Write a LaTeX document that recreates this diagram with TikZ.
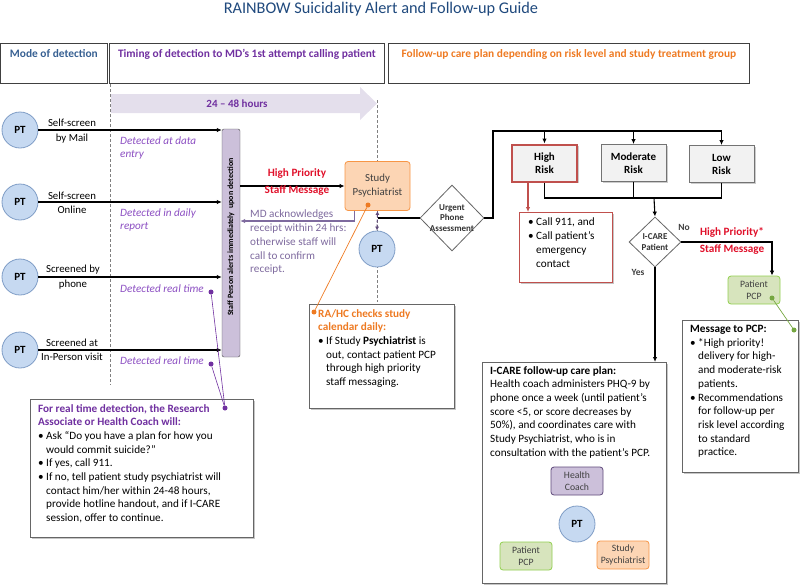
\documentclass[tikz,border=0pt]{standalone}
\usepackage{fontspec}
\setmainfont{Carlito}
\usepackage{tikz}
\usetikzlibrary{positioning, arrows.meta, shapes.geometric, shadows}
\definecolor{mtitle}{HTML}{1F497D}
\definecolor{mhead}{HTML}{376092}
\definecolor{mpurple}{HTML}{7030A0}
\definecolor{mlabel}{HTML}{8C4FC2}
\definecolor{mack}{HTML}{7E6A9E}
\definecolor{morange}{HTML}{EE7A22}
\definecolor{mred}{HTML}{E0102A}
\definecolor{mredbox}{HTML}{C0504D}
\definecolor{ptfill}{HTML}{C6D9F1}
\definecolor{ptdraw}{HTML}{7F9DC6}
\definecolor{psyfill}{HTML}{FCD5B4}
\definecolor{psydraw}{HTML}{F79646}
\definecolor{pcpfill}{HTML}{D7E4BD}
\definecolor{pcpdraw}{HTML}{92D050}
\definecolor{hcfill}{HTML}{CCC0DA}
\definecolor{hcdraw}{HTML}{5F497A}
\definecolor{bandfill}{HTML}{E4DFEC}
\definecolor{riskfill}{HTML}{F2F2F2}
\newcommand{\notefont}{\fontsize{11.2}{13.7}\selectfont}
\newcommand{\bul}{\makebox[8pt][l]{\textbullet}}
\newcommand{\bcont}{\hspace*{8pt}}
\tikzset{
  >=Stealth,
  flow/.style={line width=1.1pt, black},
  arr/.style={flow, -{Latex[length=5pt,width=4.5pt]}},
  guide/.style={densely dashed, gray, line width=0.5pt},
  headbox/.style={draw=black!75, line width=0.8pt, minimum height=40, anchor=north west, inner sep=0pt},
  headtext/.style={font=\fontsize{11.4}{13}\selectfont\bfseries},
  pt/.style={circle, draw=ptdraw, fill=ptfill, line width=0.8pt, minimum size=36, inner sep=0pt, font=\fontsize{11}{13}\selectfont\bfseries},
  srclabel/.style={align=center, inner sep=1pt, font=\fontsize{10.8}{14.5}\selectfont},
  detlabel/.style={align=left, inner sep=0pt, text=mlabel, font=\fontsize{11.2}{13}\selectfont\itshape},
  prio/.style={align=center, text=mred, font=\fontsize{11.2}{16.5}\selectfont\bfseries},
  yesno/.style={text=black!75, font=\fontsize{9.5}{11}\selectfont\bfseries},
  notebox/.style={draw=black!60, fill=white, line width=0.7pt, anchor=north west, inner sep=0pt,
    drop shadow={shadow xshift=1.5pt, shadow yshift=-1.5pt, opacity=0.45}},
  notetext/.style={anchor=north west, align=left, inner sep=0pt, font=\notefont},
  riskbox/.style={draw=black!55, fill=riskfill, line width=0.9pt, minimum width=65, minimum height=37,
    align=center, font=\fontsize{11}{13}\selectfont\bfseries,
    drop shadow={shadow xshift=1.5pt, shadow yshift=-1.5pt, opacity=0.4}},
  decision/.style={diamond, draw=black!60, fill=white, line width=0.8pt, inner sep=0pt, align=center,
    text=black!80, font=\fontsize{9}{10.5}\selectfont\bfseries},
  smallbox/.style={rounded corners=3pt, line width=0.8pt, minimum width=52, minimum height=28,
    align=center, inner sep=1pt, text=black!75, font=\fontsize{9.7}{12}\selectfont},
  psybox/.style={smallbox, draw=psydraw, fill=psyfill},
  pcpbox/.style={smallbox, draw=pcpdraw, fill=pcpfill},
  hcbox/.style={smallbox, draw=hcdraw, fill=hcfill},
  dot/.style={circle, inner sep=0pt, minimum size=5pt},
  ackline/.style={draw=mack, line width=1.1pt, -{Latex[length=5pt,width=4.5pt]}},
  linkarr/.style={draw=hcdraw, densely dashed, line width=1pt, {Latex[length=4pt,width=4pt]}-{Latex[length=4pt,width=4pt]}}
}

\begin{document}
\begin{tikzpicture}[x=1pt, y=-1pt]
\useasboundingbox (0,0) rectangle (800,584);

% title and column heads
\node[font=\fontsize{16.3}{19}\selectfont, text=mtitle] (title) at (381,9) {RAINBOW Suicidality Alert and Follow-up Guide};
\node[headbox, minimum width=107] (colmode) at (0,43) {};
\node[headbox, minimum width=275] (coltime) at (109,43) {};
\node[headbox, minimum width=361] (colplan) at (388,43) {};
\node[headtext, text=mhead] (modetext) at (colmode.north |- 0,54) {Mode of detection};
\node[headtext, text=mpurple] (timetext) at (coltime.north |- 0,54) {Timing of detection to MD’s 1st attempt calling patient};
\node[headtext, text=morange] (plantext) at (colplan.north |- 0,54) {Follow-up care plan depending on risk level and study treatment group};

% time band
\draw[guide] (110,84) -- (110,385);
\draw[guide] (377,100) -- (377,302);
\fill[bandfill] (111,94) -- (360,94) -- (360,87) -- (377,103.5) -- (360,120) -- (360,113) -- (111,113) -- cycle;
\node[text=mpurple, font=\fontsize{11}{13}\selectfont\bfseries] (hours) at (237,103.5) {24 -- 48 hours};

% modes of detection
\node[pt] (pt1) at (20,130) {PT};
\node[pt] (pt2) at (20,202) {PT};
\node[pt] (pt3) at (20,277) {PT};
\node[pt] (pt4) at (20,350) {PT};
\node[draw=black!70, fill=hcfill, rounded corners=2pt, minimum width=18, minimum height=228, inner sep=0pt] (bar) at (231,243) {};
\node[rotate=90, font=\fontsize{8}{10}\selectfont\bfseries] (bartext) at (231,237) {Staff Person alerts immediately\ \ upon detection};

\draw[arr] (pt1) -- (pt1 -| bar.west);
\draw[arr] (pt2) -- (pt2 -| bar.west);
\draw[arr] (pt3) -- (pt3 -| bar.west);
\draw[arr] (pt4) -- (pt4 -| bar.west);

\node[srclabel] (src1) at (72,131) {Self-screen\\by Mail};
\node[srclabel] (src2) at (72,203) {Self-screen\\Online};
\node[srclabel] (src3) at (73,277) {Screened by\\phone};
\node[srclabel] (src4) at (72,350) {Screened at\\In-Person visit};

\node[detlabel, anchor=west] (det1) at (120,148.5) {Detected at data\\entry};
\node[detlabel, anchor=west] (det2) at (120,220) {Detected in daily\\report};
\node[detlabel, anchor=west] (det3) at (120,289) {Detected real time};
\node[detlabel, anchor=west] (det4) at (120,361) {Detected real time};

% real time box
\node[notebox, minimum width=223, minimum height=138] (rtframe) at (30,399) {};
\node[notetext, below right=5pt and 8pt of rtframe.north west] (rttext) {%
\textcolor{mpurple}{\textbf{For real time detection, the Research}}\\
\textcolor{mpurple}{\textbf{Associate or Health Coach will:}}\\
\bul Ask “Do you have a plan for how you\\
\bcont would commit suicide?”\\
\bul If yes, call 911.\\
\bul If no, tell patient study psychiatrist will\\
\bcont contact him/her within 24-48 hours,\\
\bcont provide hotline handout, and if I-CARE\\
\bcont session, offer to continue.};
\node[dot, fill=mpurple] (pd1) at (211,292) {};
\node[dot, fill=mpurple] (pd2) at (211,364) {};
\node[dot, fill=mpurple] (pd3) at (225,408) {};
\draw[mpurple, line width=0.6pt] (pd1) -- (pd3);
\draw[mpurple, line width=0.6pt] (pd2) -- (pd3);

% psychiatrist
\node[psybox, minimum width=65, minimum height=49, font=\fontsize{10.8}{14}\selectfont] (psych) at (377.5,186) {Study\\Psychiatrist};
\node[pt] (ptmid) at (377,249) {PT};
\draw[arr] (bar.east |- psych.west) -- (psych.west);
\node[prio] (prio1) at (297,182) {High Priority\\Staff Message};
\draw[ackline] ([xshift=-23pt]psych.south) |- (bar.east |- 0,221);
\node[notetext, text=mack] (acktext) at (250,210) {MD acknowledges\\receipt within 24 hrs:\\otherwise staff will\\call to confirm\\receipt.};
\draw[linkarr] (psych.south) -- (ptmid.north);

% RA/HC box
\node[notebox, minimum width=145, minimum height=104] (raframe) at (309,304) {};
\node[notetext, below right=5pt and 9pt of raframe.north west] (ratext) {%
\textcolor{morange}{\textbf{RA/HC checks study}}\\
\textcolor{morange}{\textbf{calendar daily:}}\\
\bul If Study \textbf{Psychiatrist} is\\
\bcont out, contact patient PCP\\
\bcont through high priority\\
\bcont staff messaging.};
\node[dot, fill=morange] (od1) at (368,205) {};
\node[dot, fill=morange] (od2) at (314,312) {};
\draw[morange, line width=0.7pt] (od1) -- (od2);

% urgent assessment and risk levels
\node[decision, minimum width=64, minimum height=66] (urgent) at (452,218) {Urgent\\Phone\\\makebox[28pt]{Assessment}};
\draw[flow] (urgent.west) -- (urgent.west -| psych.south);
\node[riskbox, draw=mredbox, line width=2pt] (high) at (544.5,163) {High\\Risk};
\node[riskbox] (moderate) at (633.5,163) {Moderate\\Risk};
\node[riskbox] (low) at (721.5,164) {Low\\Risk};
\coordinate (split) at (493,131);
\coordinate (merge) at (654,198);
\draw[flow] (urgent.east) -| (split) -- (split -| low.north);
\foreach \r in {high,moderate,low}
  \draw[arr] (split -| \r.north) -- (\r.north);
\draw[flow] (high.south) -- (high.south |- merge) -- (low.south |- merge) -- (low.south);
\draw[flow] (moderate.south) -- (moderate.south |- merge);

% high risk actions
\node[notebox, draw=mredbox, line width=1.2pt, minimum width=93, minimum height=70] (callframe) at (519,212) {};
\node[notetext, below right=6pt and 9pt of callframe.north west] (calltext) {%
\bul Call 911, and\\
\bul Call patient’s\\
\bcont emergency\\
\bcont contact};
\draw[draw=mredbox, line width=1.1pt, -{Latex[length=5pt,width=4.5pt]}] ([xshift=-16.5pt]high.south) -- ([xshift=-16.5pt]high.south |- callframe.north);

% I-CARE decision
\node[decision, minimum width=52, minimum height=50] (icare) at (655,242) {I-CARE\\Patient};
\draw[arr] (merge) -- (icare.north);
\node[yesno] (nolabel) at (684,227) {No};
\node[yesno] (yeslabel) at (638,272) {Yes};
\node[pcpbox] (pcp) at (754,290) {Patient\\PCP};
\draw[arr] (icare.east) -| ([xshift=18pt]pcp.north);
\node[prio] (prio2) at (732,241) {High Priority*\\Staff Message};

% message to PCP
\node[notebox, minimum width=116, minimum height=152] (msgframe) at (682,320) {};
\node[notetext, below right=5pt and 8pt of msgframe.north west] (msgtext) {%
\textbf{Message to PCP:}\\
\bul *High priority!\\
\bcont delivery for high-\\
\bcont and moderate-risk\\
\bcont patients.\\
\bul Recommendations\\
\bcont for follow-up per\\
\bcont risk level according\\
\bcont to standard\\
\bcont practice.};
\node[dot, fill=pcpdraw!80!black] (gd1) at (772,298) {};
\node[dot, fill=pcpdraw!80!black] (gd2) at (794,330) {};
\draw[pcpdraw!80!black, line width=0.7pt] (gd1) -- (gd2);

% I-CARE care plan
\node[notebox, minimum width=184, minimum height=221] (icareframe) at (482,362) {};
\node[notetext, below right=4pt and 8pt of icareframe.north west] (icaretext) {%
\textbf{I-CARE follow-up care plan:}\\
Health coach administers PHQ-9 by\\
phone once a week (until patient’s\\
score <5, or score decreases by\\
50\%), and coordinates care with\\
Study Psychiatrist, who is in\\
consultation with the patient’s PCP.};
\draw[arr] (icare.south) -- (icare.south |- icareframe.north);
\node[hcbox] (coach) at (577,481) {Health\\Coach};
\node[pt] (ptcare) at (577,524) {PT};
\node[pcpbox] (carepcp) at (526,556) {Patient\\PCP};
\node[psybox] (carepsy) at (623,555) {Study\\Psychiatrist};

\end{tikzpicture}
\end{document}
